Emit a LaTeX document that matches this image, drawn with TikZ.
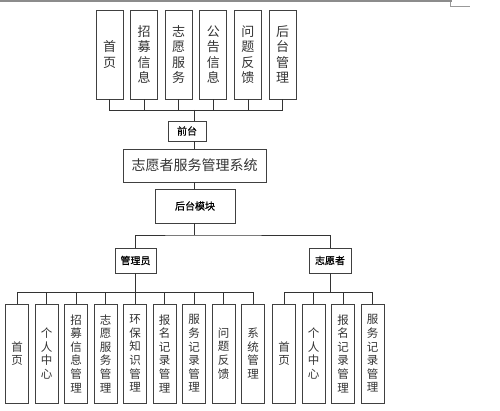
\documentclass[tikz,border=0pt]{standalone}
\usepackage{fontspec}
\setmainfont{Noto Sans CJK SC}
\newfontfamily\cjkb[FakeBold=0.8]{Noto Sans CJK SC}
\begin{document}
\begin{tikzpicture}[x=1pt,y=-1pt,
    boxB/.style={draw=black!75, line width=0.9pt, fill=white, inner sep=0pt, align=center},
    topBox/.style={boxB, minimum width=27pt, minimum height=89pt, font=\fontsize{13}{15.5}\selectfont, text=black!80},
    leafBox/.style={boxB, minimum width=23pt, minimum height=99pt, font=\fontsize{11.5}{13.6}\selectfont, text=black!80},
    labelBox/.style={boxB, font=\cjkb\fontsize{10}{11}\selectfont},
    wireB/.style={draw=black!80, line width=0.8pt}]

      \useasboundingbox (0,0) rectangle (500,411);
      \draw[black!45, line width=2pt] (0,1) -- (452,1);
      \draw[black!40, line width=0.5pt] (450,2) -- (450,6) -- (470,6);

      % top level
      \foreach \t [count=\i] in {首\\页, 招\\募\\信\\息, 志\\愿\\服\\务, 公\\告\\信\\息, 问\\题\\反\\馈, 后\\台\\管\\理}
        \node[topBox] (t\i) at ({109.5+34.6*(\i-1)}, 54.5) {\t};
      \node[labelBox, minimum width=38pt, minimum height=20pt] (qt) at (187, 131) {前台};
      \node[boxB, minimum width=143pt, minimum height=33pt, font=\fontsize{14}{15}\selectfont, text=black!80] (sys) at (194.5, 165.5) {志愿者服务管理系统};
      \node[labelBox, minimum width=80pt, minimum height=34pt] (bk) at (195, 206) {后台模块};
      \coordinate (busTop) at (194, 110);
      \foreach \i in {1,...,6}
        \draw[wireB] (t\i.south) |- (busTop);
      \draw[wireB] (busTop) -- (qt.north -| busTop);
      \draw[wireB] (qt.south -| busTop) -- (sys.north -| busTop);
      \draw[wireB] (sys.south -| busTop) -- (bk.north -| busTop);

      % roles
      \node[labelBox, minimum width=41pt, minimum height=25pt] (admin) at (135.5, 260.5) {管理员};
      \node[labelBox, minimum width=42pt, minimum height=25pt] (vol) at (330, 260.5) {志愿者};
      \coordinate (split) at (194, 235);
      \draw[wireB] (bk.south -| split) -- (split);
      \draw[wireB] (admin.north) |- (split) -| (vol.north);

      % admin leaves
      \foreach \t [count=\i] in {首\\页, 个\\人\\中\\心, 招\\募\\信\\息\\管\\理, 志\\愿\\服\\务\\管\\理, 环\\保\\知\\识\\管\\理, 报\\名\\记\\录\\管\\理, 服\\务\\记\\录\\管\\理, 问\\题\\反\\馈, 系\\统\\管\\理}
        \node[leafBox] (a\i) at ({17+29.5*(\i-1)}, 353.5) {\t};
      \coordinate (busA) at (135.5, 292.5);
      \foreach \i in {1,...,9}
        \draw[wireB] (a\i.north) |- (busA);
      \draw[wireB] (busA) -- (admin.south);

      % volunteer leaves
      \foreach \t [count=\i] in {首\\页, 个\\人\\中\\心, 报\\名\\记\\录\\管\\理, 服\\务\\记\\录\\管\\理}
        \node[leafBox] (v\i) at ({284+29.5*(\i-1)}, 353.5) {\t};
      \coordinate (busV) at (330, 292.5);
      \foreach \i in {1,...,4}
        \draw[wireB] (v\i.north) |- (busV);
      \draw[wireB] (busV) -- (vol.south);
    \end{tikzpicture}
\end{document}
